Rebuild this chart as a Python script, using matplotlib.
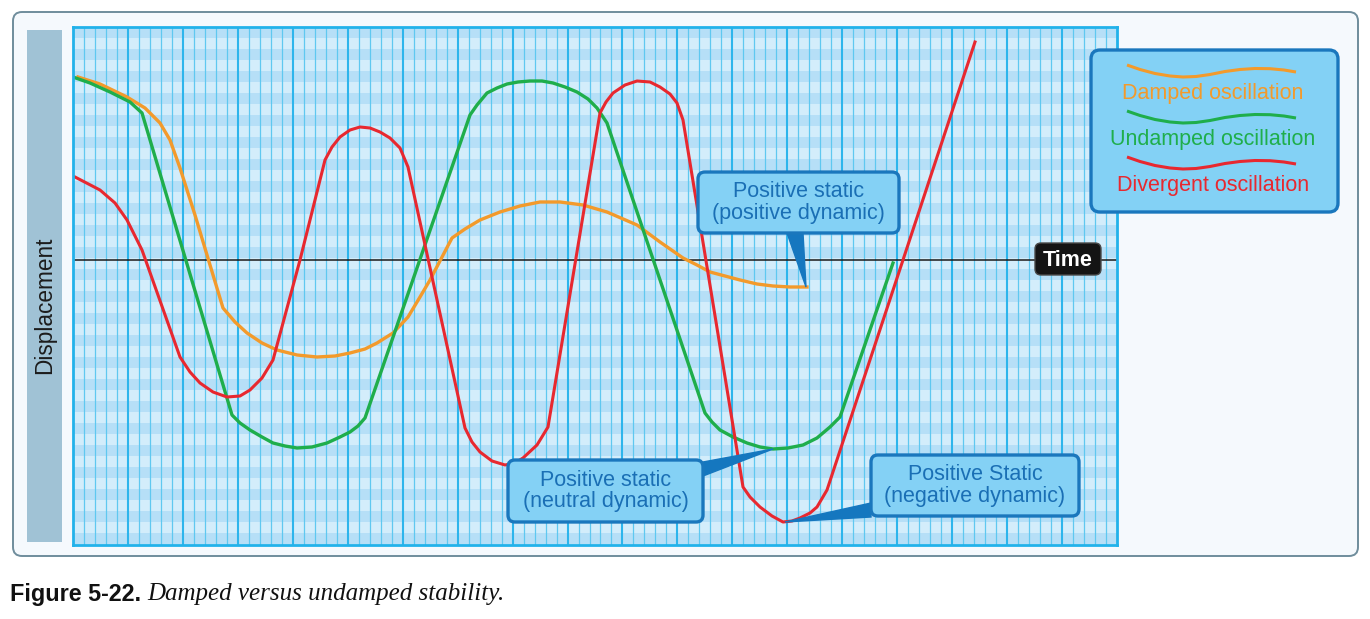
import matplotlib
matplotlib.use("Agg")
import matplotlib.pyplot as plt
import numpy as np
from matplotlib.patches import FancyBboxPatch, Polygon, Rectangle

plt.rcParams['font.family'] = ['Liberation Sans', 'DejaVu Sans']

# time / displacement (displacement 0 = time axis)
damped_t = [5, 27, 54, 72, 87, 97, 107, 122, 137, 150, 162, 174, 189, 204, 224, 244, 262, 277,
            292, 304, 320, 335, 347, 357, 368, 379, 392, 407, 427, 447, 467, 487, 510, 534,
            564, 587, 610, 624, 637, 652, 667, 684, 700, 717, 734]
damped_d = [183, 176, 163, 152, 137, 120, 92, 45, -5, -48, -62, -73, -83, -90, -95, -97, -96, -93,
            -89, -83, -73, -57, -37, -20, 1, 22, 31, 40, 48, 54, 58, 58, 55, 48,
            35, 18, 2, -5, -12, -16, -20, -24, -26, -27, -27]

undamped_t = [0, 17, 37, 57, 69, 159, 167, 177, 189, 200, 212, 224, 239, 254, 267, 277, 285, 292,
              397, 404, 414, 424, 434, 445, 457, 469, 480, 492, 504, 515, 524, 534,
              632, 639, 647, 660, 674, 687, 700, 715, 730, 744, 757, 767, 820]
undamped_d = [183, 177, 168, 158, 147, -155, -163, -170, -177, -183, -186, -188, -187, -183, -177, -172, -166, -158,
              145, 155, 167, 172, 176, 178, 179, 179, 177, 173, 168, 161, 152, 137,
              -153, -162, -170, -177, -183, -187, -189, -188, -185, -178, -167, -157, -3]

divergent_t = [2, 27, 42, 54, 69, 107, 117, 127, 140, 154, 167, 177, 189, 200, 227, 252, 259, 267,
               277, 287, 297, 307, 317, 327, 335, 392, 399, 407, 419, 432, 442, 450, 464, 475,
               527, 533, 540, 552, 564, 577, 587, 597, 604, 610, 670, 677, 687, 699, 710, 719,
               727, 737, 744, 754, 902]
divergent_d = [83, 70, 57, 40, 10, -97, -112, -123, -132, -137, -136, -130, -118, -100, 0, 100, 113, 123,
               130, 133, 132, 128, 122, 112, 93, -168, -182, -192, -201, -205, -203, -198, -185, -167,
               147, 158, 167, 175, 179, 178, 173, 166, 157, 140, -227, -237, -247, -256, -262, -261,
               -258, -253, -247, -230, 218]

legend_labels = ['Damped oscillation', 'Undamped oscillation', 'Divergent oscillation']
colors = ['#f39a2b', '#1fae4b', '#e8282f']

# callouts: (text, box x0, x1, y0, y1, pointer triangle)
callouts = [
    ('Positive static\n(positive dynamic)', 625, 826, 27, 88, [(714, 27), (730, 27), (733, -27)]),
    ('Positive static\n(neutral dynamic)', 435, 630, -262, -200, [(630, -202), (630, -216), (700, -189)]),
    ('Positive Static\n(negative dynamic)', 798, 1006, -256, -195, [(798, -243), (798, -257), (712, -262)]),
]

W, H = 1370, 619
fig = plt.figure(figsize=(W / 100, H / 100), dpi=100)
fig.patch.set_facecolor('white')

# background / frame axes in pixel coordinates
bg = fig.add_axes([0, 0, 1, 1], zorder=0)
bg.set_xlim(0, W)
bg.set_ylim(H, 0)
bg.axis('off')
bg.add_patch(FancyBboxPatch((13, 12), 1345, 544, boxstyle='round,pad=0,rounding_size=9',
                            facecolor='#f5f9fd', edgecolor='#6f8d9c', lw=1.4))
bg.add_patch(Rectangle((27, 30), 35, 512, facecolor='#a0c2d5', edgecolor='none'))
bg.text(44.5, 305, 'Displacement', rotation=90, ha='center', va='center', fontsize=16.3, color='#1c1c1c')

# caption
bg.text(10, 594, 'Figure 5-22.', ha='left', va='center', fontsize=16.8, fontweight='bold', color='#111111')
bg.text(147, 594, 'Damped versus undamped stability.', ha='left', va='center', fontsize=18,
        style='italic', family='Liberation Serif', color='#111111')

# main plot area
ax = fig.add_axes([73 / W, 1 - 545 / H, 1044 / W, 518 / H], zorder=1)
ax.set_xlim(0, 1044)
ax.set_ylim(-285, 233)
ax.set_xticks([])
ax.set_yticks([])
ax.set_facecolor('#cfeafa')

# horizontal stripes
step = 1044 / 95
y = 233
k = 0
while y > -285:
    ax.axhspan(y - step, y, color='#b6dff7' if k % 2 == 0 else '#d3edfb', lw=0, zorder=0)
    y -= step
    k += 1

# vertical grid lines
for j in range(1, 95):
    major = j % 5 == 0
    ax.axvline(j * step, color='#2db5ec' if major else '#5fc8f0',
               lw=1.5 if major else 0.9, zorder=0.5)

for s in ax.spines.values():
    s.set_color('#22b2ea')
    s.set_linewidth(2)

ax.axhline(0, color='#1a1a1a', lw=1.1, zorder=1)

ax.plot(damped_t, damped_d, color=colors[0], lw=2.4, solid_joinstyle='round', zorder=2)
ax.plot(undamped_t, undamped_d, color=colors[1], lw=2.4, solid_joinstyle='round', zorder=2)
ax.plot(divergent_t, divergent_d, color=colors[2], lw=2.2, solid_joinstyle='round', zorder=2.2)

for txt, x0, x1, y0, y1, tri in callouts:
    ax.add_patch(Polygon(tri, closed=True, facecolor='#1577bf', edgecolor='#1577bf', lw=1, zorder=3))
    ax.add_patch(FancyBboxPatch((x0, y0), x1 - x0, y1 - y0, boxstyle='round,pad=0,rounding_size=7',
                                facecolor='#84d1f5', edgecolor='#1a77bd', lw=2.4, zorder=3.1))
    ax.text((x0 + x1) / 2, (y0 + y1) / 2, txt, ha='center', va='center', fontsize=15.5,
            color='#1a6fb5', linespacing=1.05, zorder=3.2)

# time label
ax.add_patch(FancyBboxPatch((962, -15), 66, 32, boxstyle='round,pad=0,rounding_size=6',
                            facecolor='#141414', edgecolor='#4a4a4a', lw=1, zorder=3))
ax.text(995, 0, 'Time', ha='center', va='center', fontsize=15.5, fontweight='bold', color='white', zorder=3.2)

# legend on top of everything
fg = fig.add_axes([0, 0, 1, 1], zorder=2)
fg.set_xlim(0, W)
fg.set_ylim(H, 0)
fg.axis('off')
fg.patch.set_alpha(0)
fg.add_patch(FancyBboxPatch((1091, 50), 247, 162, boxstyle='round,pad=0,rounding_size=9',
                            facecolor='#83d1f5', edgecolor='#1a77bd', lw=2.4))
wave_x = np.array([1127, 1140, 1155, 1170, 1183, 1196, 1210, 1225, 1240, 1255, 1270, 1284, 1296])
wave_y = np.array([0, 4.5, 8.5, 11, 12, 11.5, 9.5, 6.5, 4.5, 3.5, 3.7, 5, 7])
for i, (lab, c) in enumerate(zip(legend_labels, colors)):
    y0 = 65 + i * 46
    fg.plot(wave_x, wave_y + y0, color=c, lw=2.2, solid_capstyle='butt', solid_joinstyle='round')
    fg.text(1213, y0 + 28, lab, ha='center', va='center', fontsize=15.5, color=c)

fig.savefig('out.png', dpi=100)
